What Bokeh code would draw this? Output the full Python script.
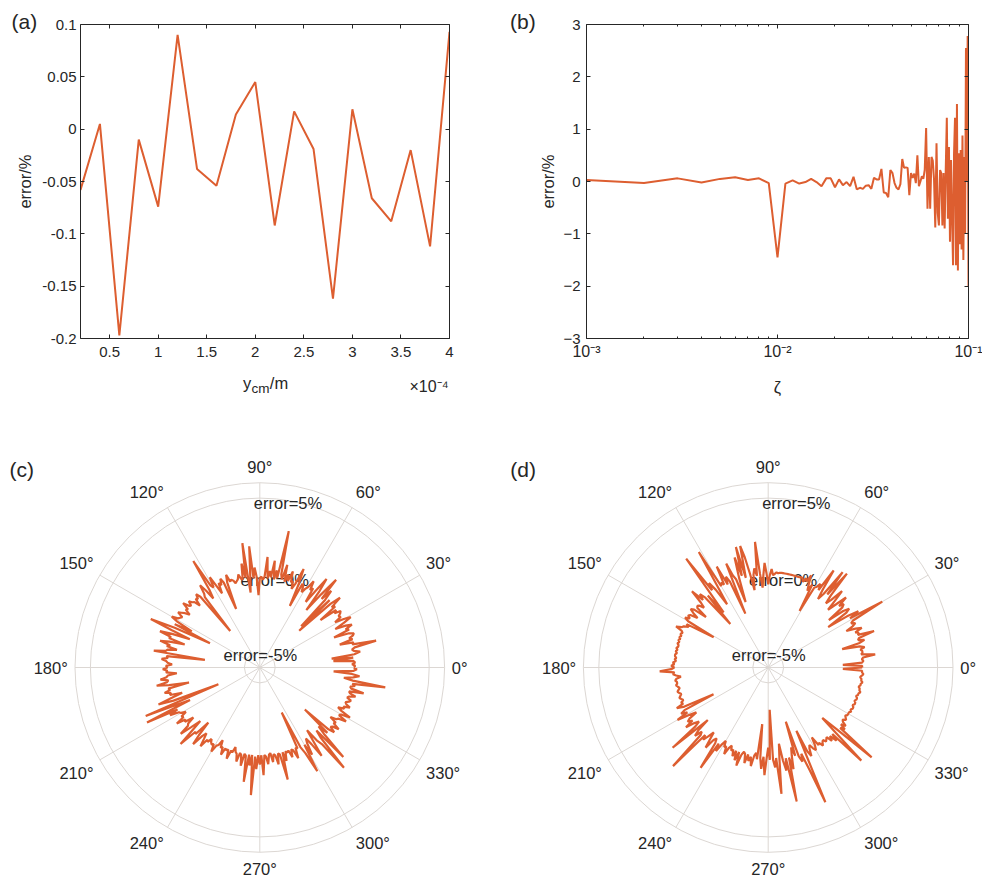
import numpy as np
from bokeh.plotting import figure
from bokeh.layouts import row, column
from bokeh.models import (LinearAxis, LogAxis, FixedTicker, CustomJSTickFormatter,
                          Label, ColumnDataSource, Range1d)
from bokeh.embed import file_html
from bokeh.resources import INLINE
from bokeh.core.properties import value, field

FONT = "Liberation Sans"
TXT = "#262626"
ORANGE = "#DD5E30"
GRIDC = "#dcd7d3"

# ---------------- data ----------------
# (a)
ycm_m = [0.2e-4, 0.4e-4, 0.6e-4, 0.8e-4, 1.0e-4, 1.2e-4, 1.4e-4, 1.6e-4, 1.8e-4, 2.0e-4,
         2.2e-4, 2.4e-4, 2.6e-4, 2.8e-4, 3.0e-4, 3.2e-4, 3.4e-4, 3.6e-4, 3.8e-4, 4.0e-4]
err_a = [-0.058, 0.005, -0.197, -0.010, -0.074, 0.090, -0.038, -0.054, 0.014, 0.045,
         -0.092, 0.017, -0.019, -0.162, 0.019, -0.066, -0.088, -0.020, -0.112, 0.093]
xa_ticks = [0.5e-4, 1.0e-4, 1.5e-4, 2.0e-4, 2.5e-4, 3.0e-4, 3.5e-4, 4.0e-4]
ya_ticks = [-0.2, -0.15, -0.1, -0.05, 0.0, 0.05, 0.1]

# (b)
zeta = [k / 1000 for k in range(1, 101)]
err_b = [0.03, -0.03, 0.06, -0.02, 0.05, 0.08, 0.03, 0.06, -0.03, -1.45,
         -0.04, 0.02, -0.04, -0.01, 0.05, -0.01, -0.09, 0.06, 0.06, -0.11,
         0.04, -0.07, -0.01, -0.09, 0.09, -0.15, -0.12, -0.14, -0.08, -0.07,
         -0.14, 0.07, 0.04, 0.04, 0.24, -0.21, -0.22, -0.30, 0.22, 0.16,
         -0.03, -0.12, -0.15, -0.05, 0.43, 0.26, 0.27, 0.26, -0.26, 0.16,
         0.07, 0.15, -0.03, 0.50, -0.09, 0.00, 0.10, 0.05, 0.22, 1.02,
         -0.52, 0.47, -0.52, 0.47, 0.40, 0.04, -0.88, 0.73, -0.60, -0.84,
         0.22, 0.16, -0.84, 0.16, -0.90, 0.22, 1.22, -0.71, 0.66, -1.15,
         0.41, -0.65, -1.60, 0.54, 1.22, -1.60, 1.48, -1.70, 0.54, -1.20,
         0.60, -1.30, 0.88, -1.50, 0.47, -1.00, 2.55, 0.00, 2.78, -2.00]
xb_ticks = [1e-3, 1e-2, 1e-1]
xb_minor = [m * 10.0 ** e for e in (-3, -2) for m in range(2, 10)]
yb_ticks = [-3, -2, -1, 0, 1, 2, 3]

# (c), (d) polar: error (%) at angle 0..359 deg
theta_deg = list(range(360))
err_c = [
    0.1, 0.2, 0.0, 0.2, 0.1, -1.2, 0.1, -1.3, 0.2, 0.6,
    0.2, 0.1, 0.3, 1.75, 0.2, 0.3, -0.6, 0.3, 0.1, 0.4,
    0.5, 0.2, -0.8, 0.3, 0.1, 0.6, 0.2, -0.5, 0.2, 0.75,
    0.3, -0.3, 0.2, 0.1, 0.3, 0.4, 0.0, 0.2, -1.0, 0.3,
    0.1, 0.9, 0.2, -2.5, 0.3, -2.2, 0.1, 0.8, 0.0, 1.55,
    0.2, -1.2, 0.3, 1.2, 0.1, -0.8, 0.2, 0.0, 0.6, 0.1,
    -0.1, -0.4, 0.0, 0.1, -1.55, 0.0, 1.0, -0.1, -0.5, 0.0,
    -0.1, 0.6, -0.1, 0.3, -0.2, 0.9, -0.1, 0.2, 3.05, -0.1,
    0.4, -0.2, 1.0, -0.1, 0.3, -0.2, 1.2, -0.1, -0.3, -0.1,
    -0.2, -1.3, -0.1, 0.5, -0.2, 1.9, -0.1, -1.1, 2.15, -0.1,
    0.85, -0.2, -0.1, 0.2, -0.1, -0.2, -0.3, -0.1, 0.0, -0.1,
    0.4, -0.1, -1.9, 0.0, 0.3, -0.1, 0.1, -0.6, 0.0, 0.7,
    0.0, 0.2, 2.15, 0.0, -0.6, 0.1, 0.6, 0.0, -0.2, -2.95,
    0.0, 0.3, 0.0, 0.1, -0.4, 0.0, 0.1, 0.3, 0.0, 0.1,
    0.5, 0.0, 0.1, -0.3, 0.0, 0.2, 0.4, 0.0, 0.1, 0.2,
    0.6, 0.1, -1.0, 0.2, -2.4, 0.1, 1.75, 0.2, -1.1, 0.1,
    0.9, 0.1, 0.2, -0.9, 0.1, 0.7, 0.0, 0.2, -0.5, 0.1,
    0.2, 0.97, -2.4, 0.1, 0.0, 0.4, 0.1, 0.0, -0.3, 0.1,
    0.0, 0.3, 0.0, 0.1, -0.6, 0.0, 0.1, 0.5, 0.0, 0.1,
    0.8, 0.0, -1.3, 0.1, 0.0, 0.4, 0.0, 0.1, -0.7, 0.0,
    1.0, 0.0, -3.1, 2.05, 0.1, -1.0, 2.15, 0.0, 0.6, 0.0,
    -0.1, -0.4, 0.0, -0.1, 0.5, -0.1, 0.0, -0.6, -0.1, 0.0,
    0.7, -0.1, -0.8, 0.0, 1.15, -0.1, 0.0, -1.1, -0.1, 0.6,
    -0.2, -0.5, -0.1, 0.4, -0.2, -0.1, -0.4, -0.2, -0.1, -0.2,
    0.3, -0.2, -0.3, -0.7, -0.2, -0.3, 0.2, -0.3, -0.2, -0.3,
    0.3, -0.3, -0.2, -0.6, -0.3, -0.2, 0.3, -0.3, -0.2, 0.5,
    -0.3, -0.2, 1.5, -0.3, 0.4, -0.3, 2.3, -0.2, 0.6, -0.3,
    0.3, -0.3, 1.0, -0.3, -0.2, 0.3, -0.3, -0.4, 0.2, -0.3,
    -0.2, 0.4, -0.3, -0.2, 1.5, -0.3, 0.3, -0.3, -0.2, -0.3,
    0.2, -0.3, -0.2, 0.4, -0.3, -0.2, -2.75, -0.2, 0.3, 1.7,
    -0.2, 0.6, -0.2, -0.5, 0.0, 1.0, -0.1, -0.9, 0.0, 0.4,
    2.5, 0.0, -0.5, 1.95, 0.0, -0.6, 0.1, -2.0, 0.0, 0.4,
    0.0, 0.1, 0.5, 0.0, 0.1, -0.4, 0.0, 0.1, 0.6, 0.0,
    0.1, 0.7, 0.0, -0.3, 0.1, 0.0, 0.4, 0.1, 0.0, 0.2,
    0.3, 0.0, 0.1, 0.5, 0.1, 0.0, 0.95, 0.1, 0.0, 0.3,
    0.1, 2.25, 0.1, -0.5, 0.1, 0.5, 0.0, -1.2, 0.1, 0.3,
]
err_d = [
    0.1, 0.1, -1.15, 0.1, 0.2, 0.1, 0.2, 1.0, 0.1, 0.2,
    0.2, 0.1, 0.4, 0.1, -1.05, 0.1, 0.5, 0.1, 0.2, 1.27,
    0.2, 0.3, 0.1, 0.6, 0.2, -0.4, 0.1, 0.35, 0.1, 0.3,
    2.55, 0.2, 0.9, 0.1, -1.3, 0.2, 0.5, 0.1, -1.0, 0.2,
    0.4, 0.1, 0.8, 0.0, -0.6, 0.1, 0.9, 0.0, -0.4, 0.2,
    1.95, 0.1, 1.85, 0.0, -0.5, 0.2, 1.6, 0.0, 0.4, 0.1,
    0.0, -1.8, 0.1, -0.4, 0.0, 0.6, 0.1, 0.3, 0.0, 0.2,
    0.25, 0.2, 0.2, 0.2, 0.2, 0.2, 0.2, 0.2, 0.2, 0.2,
    0.2, 0.2, 0.2, 0.2, 0.15, 0.2, 0.1, 0.0, 0.4, 0.0,
    -0.6, 0.1, 0.8, 0.0, -0.8, 0.1, 2.2, 0.0, 0.5, 0.1,
    -0.9, 0.2, 1.3, 2.1, 0.0, 2.1, 0.2, 1.47, 0.1, -1.5,
    0.1, 0.4, 1.28, -2.2, 0.1, 0.5, 0.0, 1.36, 0.1, 0.3,
    0.1, 2.75, 0.2, -1.1, 0.1, 0.7, 0.2, 2.85, 0.1, -1.4,
    0.1, -2.25, 0.1, 0.5, 0.1, 1.0, 0.1, -0.3, 0.0, 0.1,
    0.0, -0.8, 0.1, 0.3, 0.0, -0.4, 0.1, 0.2, 0.0, 0.3,
    0.0, -1.95, 0.0, -0.2, 0.1, 0.2, 0.55, 0.1, 0.0, 0.1,
    0.0, 0.1, 0.0, 0.1, 0.0, 0.1, 0.0, 0.0, 0.1, 0.0,
    0.1, 0.0, 0.1, 0.1, 0.0, 0.1, 0.0, 0.2, 0.1, 0.3,
    0.1, 0.3, 1.05, 0.1, 0.2, 0.0, -0.3, 0.0, 0.1, 0.0,
    0.0, 0.1, 0.0, -0.1, 0.0, 0.1, 0.0, -0.1, 0.0, 0.1,
    0.0, -0.1, 0.1, 0.0, 0.5, 0.0, -2.05, 0.1, 0.4, 0.0,
    0.8, 0.0, -0.5, 0.1, 0.3, 0.0, 0.6, 0.0, -0.3, 0.1,
    2.1, -0.8, 0.1, 0.5, 0.0, 0.2, 2.9, 0.0, 0.3, -0.1,
    -0.5, 0.0, 0.6, -0.1, -0.3, 0.0, 1.85, -0.1, 0.4, -0.2,
    -0.5, -0.1, -0.2, 0.3, -0.2, -0.4, -0.1, -0.2, 0.2, -0.2,
    0.4, -0.2, 0.7, -0.1, -0.3, -0.2, 0.4, -0.2, 0.2, -0.1,
    0.5, -0.2, -0.4, 0.0, -2.3, -0.1, 0.6, -0.2, 1.0, -0.1,
    -0.8, 0.0, -3.25, 0.0, 0.5, -0.1, 2.25, 0.0, -1.0, 0.1,
    0.8, 0.0, 2.9, 0.0, 0.8, -0.1, -0.6, 0.0, -2.3, 0.1,
    0.5, 0.0, 1.2, 3.5, -1.5, 0.0, 0.4, -0.1, -0.3, 0.0,
    0.2, -0.1, -0.65, 0.0, -0.1, 0.2, 0.0, -0.1, 0.1, 0.0,
    -0.1, 0.3, 0.0, 0.5, 0.0, 2.55, 0.1, -1.2, 0.0, 2.9,
    0.1, 0.4, 0.0, 0.3, 0.0, -0.1, 0.1, 0.0, -0.1, 0.0,
    0.0, 0.0, 0.1, 0.0, 0.1, 0.1, 0.0, 0.1, 0.1, 0.0,
    0.1, 0.1, 0.0, 0.1, 0.1, 0.2, 0.1, 0.1, 0.0, 0.1,
    0.1, 0.2, 0.1, 0.1, 0.0, 0.1, 0.2, 0.1, 0.1, -1.15,
]
angle_ticks = [0, 30, 60, 90, 120, 150, 180, 210, 240, 270, 300, 330]
angle_labels = ["0°", "30°", "60°", "90°", "120°", "150°", "180°",
                "210°", "240°", "270°", "300°", "330°"]
r_min = -6.0           # radial axis limits (error %)
r_max = 6.0
r_rings = [-5.0, 5.0]
r_text = ["error=5%", "error=0%", "error=-5%"]


# ---------------- helpers ----------------
def style_axis(ax, standoff):
    ax.axis_line_color = TXT
    ax.axis_line_width = 1
    ax.major_tick_line_color = TXT
    ax.major_tick_in = 4
    ax.major_tick_out = 0
    ax.minor_tick_in = 2
    ax.minor_tick_out = 0
    ax.minor_tick_line_color = TXT
    ax.major_label_text_font = FONT
    ax.major_label_text_font_size = "15px"
    ax.major_label_text_color = TXT
    ax.major_label_standoff = standoff
    ax.axis_label_text_font = FONT
    ax.axis_label_text_font_size = "16.5px"
    ax.axis_label_text_font_style = "normal"
    ax.axis_label_text_color = TXT


def mirror(ax):
    style_axis(ax, 0)
    ax.major_label_text_font_size = "0px"
    ax.formatter = CustomJSTickFormatter(code="return '';")


def lab(p, side, x, y, text, size, xo=0, yo=0, align="left", baseline="alphabetic"):
    p.add_layout(Label(x=x, y=y, x_offset=xo, y_offset=yo, text=text,
                       text_font=FONT, text_font_size=size, text_color=TXT,
                       text_align=align, text_baseline=baseline), side)


# ---------------- (a) ----------------
pa = figure(width=491, height=440, x_range=Range1d(2e-5, 4e-4), y_range=Range1d(-0.2, 0.1),
            output_backend="svg", toolbar_location=None,
            min_border_left=80, min_border_right=42, min_border_top=24, min_border_bottom=102)
pa.grid.visible = False
pa.outline_line_color = None
pa.xaxis.ticker = FixedTicker(ticks=xa_ticks)
pa.xaxis.formatter = CustomJSTickFormatter(code="return String(Number((tick*1e4).toFixed(2)));")
pa.yaxis.ticker = FixedTicker(ticks=ya_ticks)
pa.yaxis.formatter = CustomJSTickFormatter(code="return String(Number(tick.toFixed(2)));")
pa.yaxis.axis_label = "error/%"
style_axis(pa.xaxis[0], 8)
style_axis(pa.yaxis[0], 4)
pa.xaxis[0].minor_tick_line_color = None
pa.yaxis[0].minor_tick_line_color = None
ta = LinearAxis(ticker=FixedTicker(ticks=xa_ticks))
mirror(ta)
ta.minor_tick_line_color = None
pa.add_layout(ta, "above")
ra = LinearAxis(ticker=FixedTicker(ticks=ya_ticks))
mirror(ra)
ra.minor_tick_line_color = None
pa.add_layout(ra, "right")
pa.line(ycm_m, err_a, line_color=ORANGE, line_width=2)
lab(pa, "above", 2e-5, 0.1, "(a)", "21px", xo=-69, yo=3)
lab(pa, "below", 2.1e-4, -0.2, "y", "16.5px", xo=-22, yo=-44)
lab(pa, "below", 2.1e-4, -0.2, "cm", "13.5px", xo=-13.5, yo=-50)
lab(pa, "below", 2.1e-4, -0.2, "/m", "16.5px", xo=4.8, yo=-44)
lab(pa, "below", 4e-4, -0.2, "×10⁻⁴", "16px", xo=-1, yo=-48, align="right")

# ---------------- (b) ----------------
pb = figure(width=491, height=440, x_axis_type="log", x_range=Range1d(1e-3, 1e-1),
            y_range=Range1d(-3, 3), output_backend="svg", toolbar_location=None,
            min_border_left=95, min_border_right=14, min_border_top=24, min_border_bottom=97)
pb.grid.visible = False
pb.outline_line_color = None
log_fmt = """
const e = Math.round(Math.log10(tick));
const sup = {"-3": "⁻³", "-2": "⁻²", "-1": "⁻¹", "0": "⁰"};
return "10" + sup[String(e)];
"""
pb.xaxis.ticker = FixedTicker(ticks=xb_ticks, minor_ticks=xb_minor)
pb.xaxis.formatter = CustomJSTickFormatter(code=log_fmt)
pb.yaxis.ticker = FixedTicker(ticks=yb_ticks)
pb.yaxis.axis_label = "error/%"
style_axis(pb.xaxis[0], 4)
style_axis(pb.yaxis[0], 6)
pb.xaxis[0].major_label_text_font_size = "16px"
pb.yaxis[0].axis_label_standoff = 3
pb.yaxis[0].minor_tick_line_color = None
tb = LogAxis(ticker=FixedTicker(ticks=xb_ticks, minor_ticks=xb_minor))
mirror(tb)
pb.add_layout(tb, "above")
rb = LinearAxis(ticker=FixedTicker(ticks=yb_ticks))
mirror(rb)
rb.minor_tick_line_color = None
pb.add_layout(rb, "right")
pb.line(zeta, err_b, line_color=ORANGE, line_width=2)
lab(pb, "above", 1e-3, 3, "(b)", "21px", xo=-76.5, yo=3)
lab(pb, "below", 1e-2, -3, "ζ", "16.5px", yo=-48, align="center")


# ---------------- (c), (d) ----------------
S = 15.4        # px per radial unit
CY = 227        # centre, px from top of panel


def polar(width, cx, err, tag, tag_x):
    p = figure(width=width, height=440,
               x_range=Range1d(-cx / S, (width - cx) / S),
               y_range=Range1d(-(440 - CY) / S, CY / S),
               output_backend="svg", toolbar_location=None, min_border=0,
               x_axis_location=None, y_axis_location=None)
    p.grid.visible = False
    p.outline_line_color = None
    rmax = r_max - r_min
    # grid
    rings = [r - r_min for r in r_rings] + [rmax]
    p.circle(x=[0] * len(rings), y=[0] * len(rings), radius=rings,
             fill_color=None, line_color=GRIDC, line_width=1)
    th = np.deg2rad(angle_ticks)
    p.segment(x0=[0] * len(th), y0=[0] * len(th), x1=rmax * np.cos(th), y1=rmax * np.sin(th),
              line_color=GRIDC, line_width=1)
    # radial text labels
    p.text(x=[-0.39, -1.25, -2.36], y=[10.70, 5.70, 0.83], text=r_text,
           text_font=value(FONT), text_font_size="16.5px", text_color=TXT,
           text_align="left", text_baseline="middle")
    # data
    t = np.deg2rad(theta_deg + [theta_deg[0] + 360])
    r = np.array(err + [err[0]]) - r_min
    p.line(r * np.cos(t), r * np.sin(t), line_color=ORANGE, line_width=2.2)
    # angle labels
    rl = 192 / S
    c = np.cos(th)
    s = np.sin(th)
    aligns = ["left" if ci > 0.1 else ("right" if ci < -0.1 else "center") for ci in c]
    bases = ["bottom" if si > 0.1 else ("top" if si < -0.1 else "middle") for si in s]
    src = ColumnDataSource(dict(x=rl * c, y=rl * s, text=angle_labels, align=aligns, base=bases))
    p.text(x="x", y="y", text="text", source=src, text_align=field("align"),
           text_baseline=field("base"), text_font=value(FONT), text_font_size="16.5px",
           text_color=TXT)
    p.text(x=[tag_x], y=[12.86], text=[tag], text_font=value(FONT), text_font_size="21px",
           text_color=TXT, text_align="left", text_baseline="alphabetic")
    return p


pc = polar(491, 259.3, err_c, "(c)", -16.25)
pd_ = polar(491, 276.7, err_d, "(d)", -16.75)

layout = column(row(pa, pb), row(pc, pd_))
open("out.html", "w").write(file_html(layout, INLINE))
